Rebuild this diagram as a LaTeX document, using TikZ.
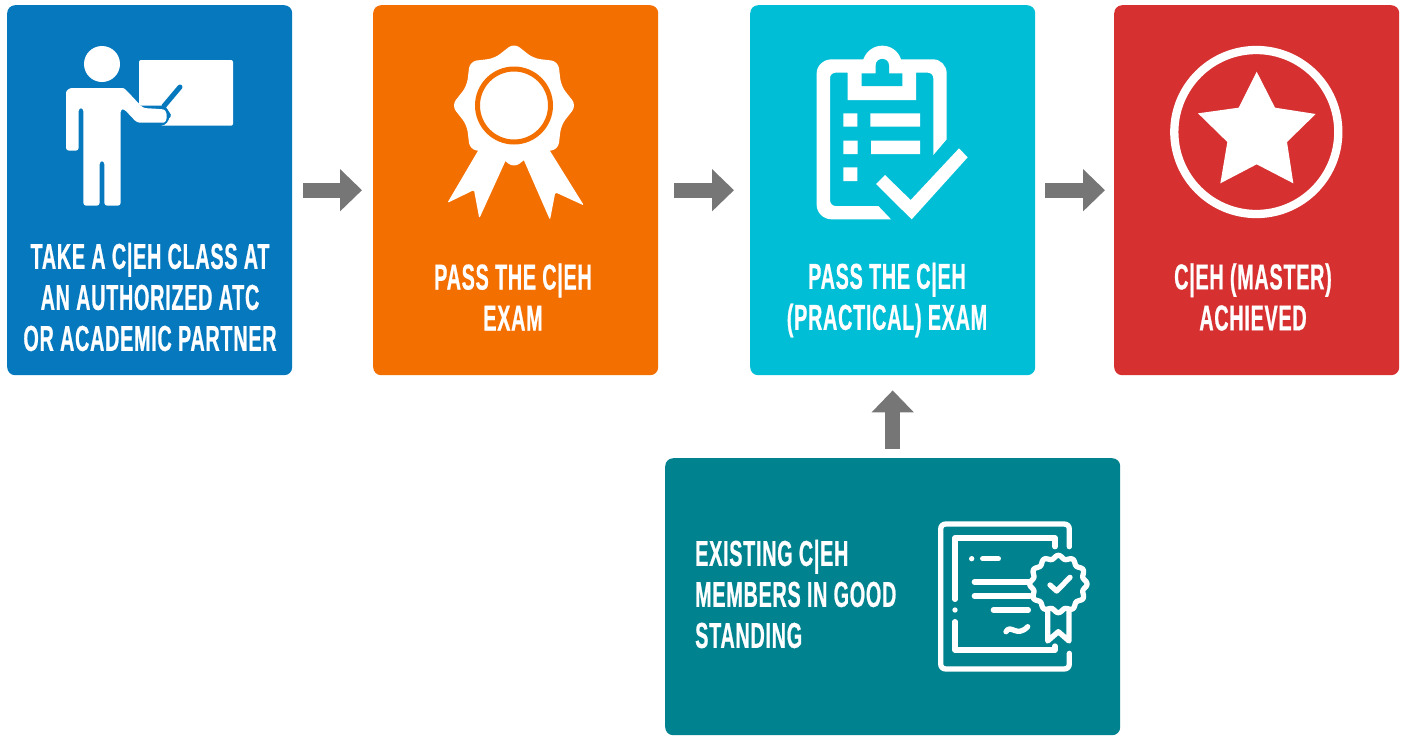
\documentclass[tikz,border=0pt]{standalone}
\usepackage{fontspec}
\setmainfont[FakeStretch=0.55,LetterSpace=2,FakeBold=0.6]{Liberation Sans Bold}
\usetikzlibrary{arrows.meta}
\definecolor{cblue}{HTML}{0578BE}
\definecolor{corange}{HTML}{F36F00}
\definecolor{ccyan}{HTML}{00BED6}
\definecolor{cred}{HTML}{D63031}
\definecolor{cteal}{HTML}{00828F}
\definecolor{cgray}{HTML}{767676}
\tikzset{
  card/.style={fill=#1,rounded corners=8pt,inner sep=0pt,anchor=north west},
  label/.style={text=white,font=\fontsize{36}{41}\selectfont,inner sep=0pt,align=center,anchor=center},
  blockarrow/.style={draw=cgray,line width=15pt,-{Triangle[length=22pt,width=41pt]}},
  icon/.style={fill=white,draw=none},
  thin line/.style={draw=white,line width=5.3pt,line cap=round,line join=round}
}
\begin{document}
\begin{tikzpicture}[x=1pt,y=-1pt]
\useasboundingbox (0,0) rectangle (1405,740);
\node[card=cblue,minimum width=285pt,minimum height=370pt] (a) at (7,5) {};
\node[card=corange,minimum width=285pt,minimum height=370pt] (b) at (373,5) {};
\node[card=ccyan,minimum width=285pt,minimum height=370pt] (c) at (750,5) {};
\node[card=cred,minimum width=285pt,minimum height=370pt] (d) at (1114,5) {};
\node[card=cteal,minimum width=455pt,minimum height=277pt] (e) at (665,458) {};
\draw[blockarrow,shorten <=11pt,shorten >=11pt] (a) -- (b);
\draw[blockarrow,shorten <=16pt,shorten >=16pt] (b) -- (c);
\draw[blockarrow,shorten <=10pt,shorten >=9pt] (c) -- (d);
\draw[blockarrow,shorten <=9pt,shorten >=15pt] (e) -- (c);
\node[label] (ta) at (150,297) {TAKE A C|EH CLASS AT\\AN AUTHORIZED ATC\\OR ACADEMIC PARTNER};
\node[label] (tb) at (513,297) {PASS THE C|EH\\EXAM};
\node[label] (tc) at (887,300) {PASS THE C|EH\\(PRACTICAL) EXAM};
\node[label] (td) at (1253,297) {C|EH (MASTER)\\ACHIEVED};
\node[label,align=left,anchor=west] (te) at (695,594) {EXISTING C|EH\\MEMBERS IN GOOD\\STANDING};
% teacher
\fill[white] (102,64) circle (18);
\fill[white,rounded corners=2pt] (139,105.5) -- (139,60) -- (233,60) -- (233,125.7) -- (160,125.7) -- (172,116) -- (165,105.5) -- cycle;
\draw[cblue,line width=5pt,line cap=round] (180,87) -- (164,106);
\draw[cblue,line width=2pt] (161,107) .. controls (171,108) and (171,124) .. (160,125);
\fill[white,rounded corners=3pt] (66,150.7) -- (66,96) .. controls (66,90) and (70,88) .. (75,88) -- (120,88) .. controls (124,88) and (126,90) .. (128,92) -- (143,108) -- (160,109) .. controls (168,110) and (168,122.7) .. (160,122.7) -- (137,122.7) -- (124,109) -- (120.7,109) -- (120.7,205.7) -- (104.3,205.7) -- (104.3,161) -- (99.7,161) -- (99.7,205.7) -- (83.3,205.7) -- (83.3,108) -- (78.7,108) -- (78.7,150.7) -- cycle;
% rosette
\fill[white,rounded corners=1.5pt] (489,132) -- (447.3,203) -- (474,190) -- (479.3,218.5) -- (515,140) -- cycle;
\fill[white,rounded corners=1.5pt] (537,130) -- (584,205.5) -- (555.3,192.3) -- (550,220) -- (515,140) -- cycle;
\fill[white,rounded corners=7pt,shift={(514,105.5)}] (90:62.5) -- (112.5:51) -- (135:62.5) -- (157.5:51) -- (180:62.5) -- (202.5:51) -- (225:62.5) -- (247.5:51) -- (270:62.5) -- (292.5:51) -- (315:62.5) -- (337.5:51) -- (0:62.5) -- (22.5:51) -- (45:62.5) -- (67.5:51) -- cycle;
\draw[corange,line width=5pt] (514,105.5) circle (36.5);
% clipboard
\begin{scope}[xshift=790pt,yshift=-30pt,scale=0.33333]
\fill[white] (303,568) -- (125,568) .. controls (100,568) and (80,548) .. (80,525) -- (80,130) .. controls (80,107) and (100,88) .. (125,88) -- (220,88) .. controls (230,60) and (255,47) .. (277,47) .. controls (299,47) and (324,60) .. (333,88) -- (430,88) .. controls (452,88) and (470,107) .. (470,130) -- (470,328) -- (430,375) -- (430,145) .. controls (430,135) and (423,128) .. (413,128) -- (378,128) -- (378,210) -- (173,210) -- (173,128) -- (137,128) .. controls (127,128) and (120,135) .. (120,145) -- (120,510) .. controls (120,520) and (127,528) .. (137,528) -- (265,528) -- cycle;
\fill[ccyan] (215,168) -- (337,168) -- (337,130) -- (297,130) -- (297,107) .. controls (297,80) and (257,80) .. (257,107) -- (257,130) -- (215,130) -- cycle;
\fill[white] (160,250) rectangle (202,290) (160,332) rectangle (203,372) (160,412) rectangle (202,453) (241,250) rectangle (390,290) (243,332) rectangle (390,372);
\fill[white] (258,462) -- (285,435) -- (362,510) -- (507,355) -- (533,382) -- (365,568) -- cycle;
\end{scope}
% star
\draw[white,line width=8.3pt] (1256.3,132) circle (82);
\begin{scope}[xshift=1150pt,yshift=-50pt,scale=0.33333]
\fill[white] (320,65) -- (375,173) -- (497,192) -- (411,276) -- (430,400) -- (320,343) -- (211,400) -- (232,276) -- (144,190) -- (266,173) -- cycle;
\end{scope}
% certificate
\begin{scope}[xshift=920pt,yshift=-510pt,scale=0.33333]
\draw[thin line] (448,110) -- (448,58) .. controls (448,48) and (442,42) .. (432,42) -- (78,42) .. controls (68,42) and (62,48) .. (62,58) -- (62,461) .. controls (62,471) and (68,477) .. (78,477) -- (432,477) .. controls (442,477) and (448,471) .. (448,461) -- (448,430);
\draw[thin line] (405,110) -- (405,84) -- (105,84) -- (105,268);
\draw[thin line] (105,335) -- (105,420) -- (405,420) -- (405,408);
\fill[white] (105,300) circle (8) (155,146) circle (8);
\draw[thin line] (188,146) -- (235,146);
\draw[thin line] (163,216) -- (330,216);
\draw[thin line] (163,258) -- (330,258);
\draw[thin line] (220,300) -- (325,300);
\draw[thin line] (258,365) .. controls (272,340) and (290,385) .. (323,350);
\draw[thin line,fill=cteal] plot[domain=0:360,samples=145,smooth] ({415+(81+5*cos(12*\x))*cos(\x)},{222+(81+5*cos(12*\x))*sin(\x)}) -- cycle;
\draw[thin line] (390,225) -- (410,243) -- (450,202);
\draw[thin line] (383,305) -- (383,393) -- (415,365) -- (447,393) -- (447,305);
\end{scope}
\end{tikzpicture}
\end{document}
